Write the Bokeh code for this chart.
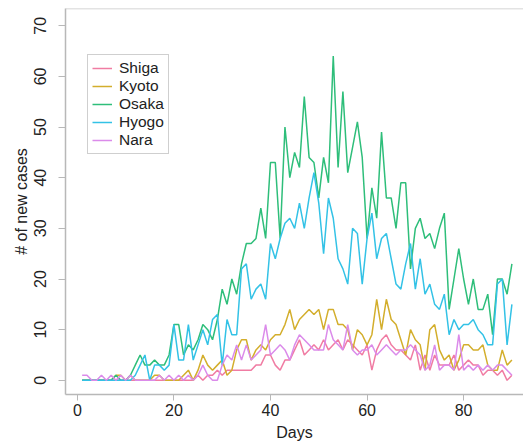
from bokeh.plotting import figure
from bokeh.models import Range1d, FixedTicker, Span, Legend, LegendItem, ColumnDataSource
from bokeh.embed import file_html
from bokeh.resources import INLINE

days = list(range(1, 91))

shiga = [0]*24 + [1, 0, 1, 1, 2, 1, 2, 2, 2, 2, 2, 2, 3, 3, 5, 5, 3, 2, 4, 4,
                  6, 8, 5, 6, 7, 6, 8, 6, 7, 8, 6, 8, 7, 6, 5, 7, 2, 6, 8, 9,
                  7, 6, 6, 5, 4, 7, 2, 5, 2, 5, 3, 3, 3, 5, 2, 3, 4, 3, 3, 1,
                  2, 2, 1, 2, 0, 1]

kyoto = [0, 0, 0, 0, 0, 0, 0, 1, 1, 0, 1, 0, 0, 0, 0, 1, 1, 0, 0, 0,
         0, 1, 2, 0, 2, 5, 3, 2, 3, 4, 1, 2, 6, 8, 8, 4, 6, 7, 6, 8,
         9, 9, 11, 14, 10, 12, 13, 14, 13, 14, 10, 14, 14, 11, 11, 10, 6, 10, 9, 7,
         9, 16, 10, 16, 12, 11, 8, 5, 10, 8, 7, 2, 10, 11, 6, 4, 5, 2, 4, 7,
         7, 6, 6, 7, 3, 2, 2, 6, 3, 4]

osaka = [0, 0, 0, 0, 0, 0, 0, 1, 0, 0, 1, 3, 5, 3, 3, 4, 3, 3, 5, 11,
         11, 5, 7, 6, 8, 11, 10, 8, 12, 18, 15, 20, 17, 23, 27, 27, 28, 34, 28, 43,
         43, 28, 50, 40, 45, 42, 56, 44, 43, 36, 44, 39, 64, 42, 57, 41, 46, 51, 44, 28,
         38, 32, 49, 36, 36, 30, 39, 39, 22, 30, 32, 28, 29, 26, 30, 33, 14, 20, 26, 20,
         15, 20, 14, 14, 17, 9, 20, 20, 17, 23]

hyogo = [0, 0, 0, 0, 0, 0, 0, 0, 0, 0, 0, 1, 3, 5, 0, 3, 3, 2, 3, 11,
         4, 4, 11, 4, 7, 10, 7, 12, 13, 3, 12, 9, 9, 22, 23, 16, 18, 19, 16, 27,
         24, 28, 31, 32, 30, 35, 30, 36, 41, 35, 25, 36, 32, 24, 22, 19, 30, 29, 19, 28,
         33, 24, 28, 29, 24, 19, 18, 23, 27, 18, 24, 17, 19, 15, 14, 17, 9, 12, 10, 11,
         11, 12, 10, 9, 7, 7, 19, 20, 7, 15]

nara = [1, 1, 0, 0, 1, 0, 1, 0, 1, 0, 1, 0, 0, 0, 0, 0, 1, 0, 1, 0,
        1, 0, 1, 0, 1, 3, 1, 0, 0, 3, 5, 4, 7, 4, 7, 4, 5, 6, 11, 5,
        6, 7, 6, 4, 7, 9, 8, 7, 6, 6, 6, 11, 8, 7, 6, 11, 6, 5, 6, 6,
        7, 5, 6, 7, 6, 5, 6, 6, 7, 6, 5, 2, 3, 7, 2, 3, 3, 2, 9, 2,
        3, 2, 3, 2, 3, 2, 3, 3, 2, 1]

names = ["Shiga", "Kyoto", "Osaka", "Hyogo", "Nara"]
series = [shiga, kyoto, osaka, hyogo, nara]
colors = ["#F07CA3", "#D3AE2C", "#2EBE7A", "#33C2E6", "#DB8BEA"]
x_ticks = [0, 20, 40, 60, 80]
y_ticks = [0, 10, 20, 30, 40, 50, 60, 70]

FONT = "Liberation Sans"

p = figure(width=523, height=443, output_backend="svg", toolbar_location=None,
           x_range=Range1d(-2.45, 92.4), y_range=Range1d(-2.8, 73.4),
           min_border_left=65, min_border_right=0, min_border_top=8,
           min_border_bottom=48)
p.outline_line_color = None
p.grid.grid_line_color = None
p.background_fill_color = "white"

renderers = []
for name, vals, c in zip(names, series, colors):
    src = ColumnDataSource(dict(x=days, y=vals))
    r = p.line("x", "y", source=src, line_color=c, line_width=1.5)
    renderers.append((name, r))

top = Span(location=73.4, dimension="width", line_color="#C8C8C8", line_width=1.5)
p.add_layout(top)

axis_gray = "#B8B8B8"
for ax in (p.xaxis[0], p.yaxis[0]):
    ax.axis_line_color = axis_gray
    ax.axis_line_width = 1.5
    ax.major_tick_line_color = axis_gray
    ax.minor_tick_line_color = None
    ax.major_tick_in = 0
    ax.major_label_text_font = FONT
    ax.major_label_text_font_size = "16px"
    ax.major_label_text_color = "#222222"
    ax.axis_label_text_font = FONT
    ax.axis_label_text_font_size = "16px"
    ax.axis_label_text_font_style = "normal"
    ax.axis_label_text_color = "#222222"

p.xaxis.ticker = FixedTicker(ticks=x_ticks)
p.yaxis.ticker = FixedTicker(ticks=y_ticks)
p.xaxis.major_tick_out = 6
p.yaxis.major_tick_out = 7
p.xaxis.major_label_standoff = 3
p.yaxis.major_label_standoff = 12
p.yaxis.major_label_orientation = "vertical"
p.xaxis.axis_label = "Days"
p.yaxis.axis_label = "# of new cases"
p.xaxis.axis_label_standoff = 5
p.yaxis.axis_label_standoff = 2

legend = Legend(items=[LegendItem(label=n, renderers=[r]) for n, r in renderers],
                location=(22, 240), orientation="vertical")
legend.label_text_font = FONT
legend.label_text_font_size = "15.5px"
legend.label_text_color = "#222222"
legend.label_height = 16
legend.glyph_height = 16
legend.glyph_width = 20
legend.label_standoff = 7
legend.spacing = 0
legend.padding = 4
legend.margin = 0
legend.border_line_color = "#A0A0A0"
legend.border_line_width = 1
legend.background_fill_color = "white"
legend.background_fill_alpha = 1.0
p.add_layout(legend, "center")

open("out.html", "w").write(file_html(p, INLINE))
